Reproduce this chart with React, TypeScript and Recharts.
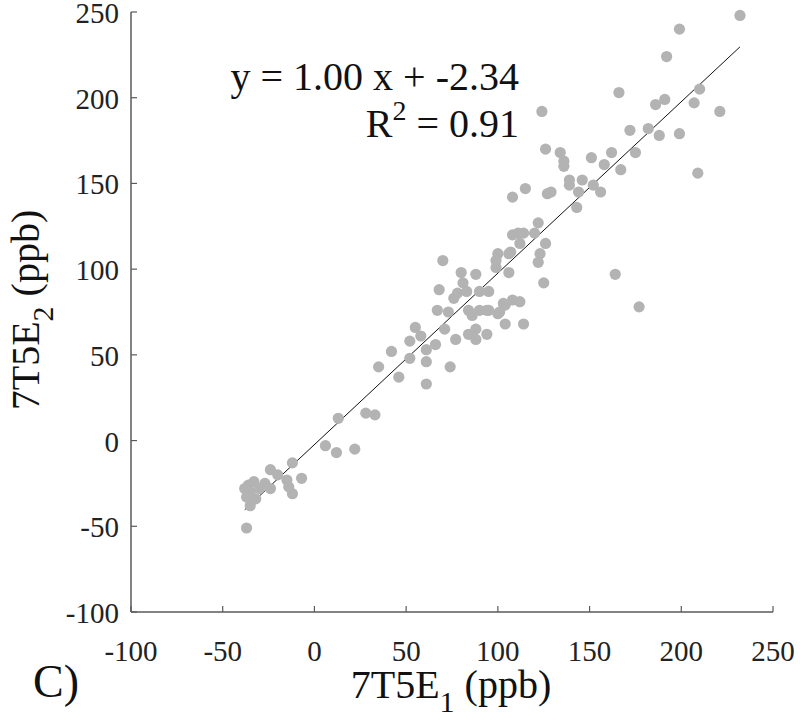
import React from 'react'
import { ScatterChart, Scatter, XAxis, YAxis, ReferenceLine } from 'recharts'

// 7T5E_1 vs 7T5E_2 (ppb)
const e1Values = [
  13, 28, 33, 6, 12, 22, -12, -24, -20, -15, -7, -33, -27, -24, -38, -14, -12, -37, -32, -35, -37, -35, -30, -36,
  35, 42, 46, 52, 52, 55, 58, 61, 66, 61, 61, 74, 71, 77, 84, 88, 88, 94, 104, 114,
  67, 68, 70, 73, 76, 78, 80, 81, 83, 84, 86, 88, 90, 90, 95, 95, 100, 104, 108, 112,
  106, 99, 100, 99, 107, 111, 108, 114, 112, 120, 126, 123, 122, 125, 103, 101, 94,
  232, 199, 192, 166, 210, 191, 186, 207, 221, 124, 172, 182, 188, 199, 126, 134, 136, 136,
  151, 162, 175, 158, 167, 209, 139, 146, 139, 152, 156, 144, 115, 108, 127, 129, 143, 122,
  164, 177, 106,
]
const e2Values = [
  13, 16, 15, -3, -7, -5, -13, -17, -20, -23, -22, -24, -25, -28, -28, -27, -31, -33, -34, -38, -51, -30, -28, -26,
  43, 52, 37, 48, 58, 66, 61, 53, 56, 46, 33, 43, 65, 59, 62, 59, 65, 62, 68, 68,
  76, 88, 105, 75, 83, 86, 98, 92, 87, 76, 73, 97, 87, 76, 87, 76, 74, 79, 82, 81,
  98, 101, 109, 105, 110, 121, 120, 121, 115, 121, 115, 109, 104, 92, 80, 75, 76,
  248, 240, 224, 203, 205, 199, 196, 197, 192, 192, 181, 182, 178, 179, 170, 168, 163, 160,
  165, 168, 168, 161, 158, 156, 152, 152, 149, 149, 145, 145, 147, 142, 144, 145, 136, 127,
  97, 78, 109,
]

const axisTicks = [-100, -50, 0, 50, 100, 150, 200, 250]

const fitSlope = 1.0
const fitIntercept = -2.34
const fitRange = [-38, 232]

const points = e1Values.map((x, i) => ({ x, y: e2Values[i] }))

const serif = '"Liberation Serif", "Times New Roman", serif'
const axisColor = '#5a5a5a'

function XTick({ x, y, payload }: any) {
  return (
    <g>
      <line x1={x} x2={x} y1={y} y2={y - 6} stroke={axisColor} strokeWidth={1.2} />
      <text x={x} y={y + 49} textAnchor="middle" fontFamily={serif} fontSize={29} fill="#222">
        {payload.value}
      </text>
    </g>
  )
}

function YTick({ x, y, payload }: any) {
  return (
    <g>
      <line x1={x} x2={x + 6} y1={y} y2={y} stroke={axisColor} strokeWidth={1.2} />
      <text x={x - 12} y={y + 11} textAnchor="end" fontFamily={serif} fontSize={29} fill="#222">
        {payload.value}
      </text>
    </g>
  )
}

function Dot(props: any) {
  return <circle cx={props.cx} cy={props.cy} r={5.6} fill="#b3b3b3" />
}

export default function App() {
  const fitSegment = fitRange.map((x) => ({ x, y: fitSlope * x + fitIntercept }))

  return (
    <div style={{ position: 'absolute', left: 0, top: 0, width: 800, height: 726, background: '#fff' }}>
      <ScatterChart width={800} height={726} margin={{ top: 12, right: 27, bottom: 0, left: 0 }}>
        <XAxis
          type="number"
          dataKey="x"
          domain={[-100, 250]}
          ticks={axisTicks}
          interval={0}
          height={114}
          tickSize={0}
          tickMargin={0}
          tickLine={false}
          axisLine={{ stroke: axisColor, strokeWidth: 1.5 }}
          tick={<XTick />}
        />
        <YAxis
          type="number"
          dataKey="y"
          domain={[-100, 250]}
          ticks={axisTicks}
          interval={0}
          width={131}
          tickSize={0}
          tickMargin={0}
          tickLine={false}
          axisLine={{ stroke: axisColor, strokeWidth: 1.5 }}
          tick={<YTick />}
        />
        <Scatter data={points} shape={<Dot />} isAnimationActive={false} />
        <ReferenceLine segment={fitSegment} stroke="#111" strokeWidth={1} ifOverflow="visible" />
      </ScatterChart>

      <svg width={800} height={726} style={{ position: 'absolute', left: 0, top: 0, pointerEvents: 'none' }}>
        <g fontFamily={serif} fill="#111">
          <text x={519} y={90} textAnchor="end" fontSize={40}>
            y = 1.00 x + -2.34
          </text>
          <text x={519} y={137} textAnchor="end" fontSize={40}>
            R<tspan fontSize={28} dy={-17}>2</tspan>
            <tspan dy={17}> = 0.91</tspan>
          </text>
          <text x={451} y={698} textAnchor="middle" fontSize={40}>
            7T5E<tspan fontSize={30} dy={14}>1</tspan>
            <tspan dy={-14}> (ppb)</tspan>
          </text>
          <text x={39} y={310} textAnchor="middle" fontSize={40} transform="rotate(-90 39 310)">
            7T5E<tspan fontSize={30} dy={14}>2</tspan>
            <tspan dy={-14}> (ppb)</tspan>
          </text>
          <text x={33} y={697} fontSize={46}>
            C)
          </text>
        </g>
      </svg>
    </div>
  )
}
